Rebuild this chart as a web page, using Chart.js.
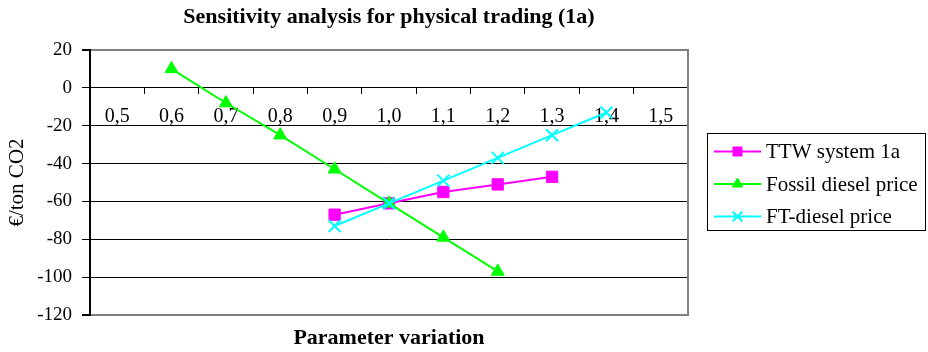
<!DOCTYPE html>
<html>
<head>
<meta charset="utf-8">
<script src="https://cdn.jsdelivr.net/npm/chart.js@4/dist/chart.umd.min.js"></script>
<style>
  html, body { margin: 0; padding: 0; background: #fff; }
  #wrap { width: 928px; height: 352px; }
</style>
</head>
<body>
<div id="wrap"><canvas id="c" width="928" height="352"></canvas></div>
<script>
// Parameter variation steps (x categories)
const categories = ['0,5', '0,6', '0,7', '0,8', '0,9', '1,0', '1,1', '1,2', '1,3', '1,4', '1,5'];

// €/ton CO2 for each sensitivity case
const ttwSystem1a   = [null, null, null, null, -67, -61, -55, -51, -47, null, null];
const fossilDiesel  = [null, 10, -8, -25, -43, -61, -79, -97, null, null, null];
const ftDiesel      = [null, null, null, null, -73, -61, -49, -37, -25, -13, null];

const seriesNames = ['TTW system 1a', 'Fossil diesel price', 'FT-diesel price'];

// Y axis range and step
const yMin = -120, yMax = 20, yStep = 20;

const SERIF = "'Liberation Serif', 'Times New Roman', serif";

// Right border of the plot frame
const frameRight = {
  id: 'frameRight',
  beforeDatasetsDraw(chart) {
    const { ctx, chartArea: a } = chart;
    ctx.save();
    ctx.strokeStyle = '#808080';
    ctx.lineWidth = 2;
    ctx.beginPath();
    ctx.moveTo(a.right, a.top - 1);
    ctx.lineTo(a.right, a.bottom + 1);
    ctx.stroke();
    ctx.restore();
  }
};

// Framed legend with line + marker samples
const boxedLegend = {
  id: 'boxedLegend',
  afterDraw(chart) {
    const { ctx, chartArea: a } = chart;
    const x0 = a.right + 19, y0 = 133, w = 218, h = 97;
    ctx.save();
    ctx.strokeStyle = '#000';
    ctx.lineWidth = 1;
    ctx.strokeRect(x0 + 0.5, y0 + 0.5, w, h);
    ctx.font = '21px ' + SERIF;
    ctx.textBaseline = 'middle';
    chart.data.datasets.forEach((ds, i) => {
      const cy = y0 + 18.5 + i * 32.5;
      const lx0 = x0 + 7, lx1 = x0 + 54;
      ctx.strokeStyle = ds.borderColor;
      ctx.lineWidth = 2;
      ctx.beginPath();
      ctx.moveTo(lx0, cy);
      ctx.lineTo(lx1, cy);
      ctx.stroke();
      ctx.fillStyle = ds.pointBackgroundColor;
      ctx.strokeStyle = ds.pointBorderColor;
      ctx.lineWidth = ds.pointBorderWidth;
      Chart.helpers.drawPoint(ctx, {
        pointStyle: ds.pointStyle,
        radius: ds.pointRadius * 0.8,
        borderWidth: ds.pointBorderWidth
      }, (lx0 + lx1) / 2, cy);
      ctx.fillStyle = '#000';
      ctx.fillText(seriesNames[i], x0 + 59, cy + 1);
    });
    ctx.restore();
  }
};

const whiteBg = {
  id: 'whiteBg',
  beforeDraw(chart) {
    const { ctx, width, height } = chart;
    ctx.save();
    ctx.fillStyle = '#fff';
    ctx.fillRect(0, 0, width, height);
    ctx.restore();
  }
};

new Chart(document.getElementById('c'), {
  type: 'line',
  data: {
    labels: categories,
    datasets: [
      {
        label: seriesNames[0], data: ttwSystem1a,
        borderColor: '#FF00FF', backgroundColor: '#FF00FF',
        pointBackgroundColor: '#FF00FF', pointBorderColor: '#FF00FF',
        pointStyle: 'rect', pointRadius: 8, pointBorderWidth: 1,
        borderWidth: 2, order: 3
      },
      {
        label: seriesNames[1], data: fossilDiesel,
        borderColor: '#00FF00', backgroundColor: '#00FF00',
        pointBackgroundColor: '#00FF00', pointBorderColor: '#00FF00',
        pointStyle: 'triangle', pointRadius: 7.5, pointBorderWidth: 1,
        borderWidth: 2, order: 2
      },
      {
        label: seriesNames[2], data: ftDiesel,
        borderColor: '#00FFFF', backgroundColor: '#00FFFF',
        pointBackgroundColor: '#00FFFF', pointBorderColor: '#00FFFF',
        pointStyle: 'crossRot', pointRadius: 8.5, pointBorderWidth: 2,
        borderWidth: 2, order: 1
      }
    ]
  },
  options: {
    responsive: false,
    animation: false,
    devicePixelRatio: 1,
    spanGaps: false,
    layout: { padding: { left: 0, right: 240, top: 0, bottom: 0 } },
    elements: { line: { tension: 0 } },
    plugins: {
      legend: { display: false },
      tooltip: { enabled: false },
      title: {
        display: true,
        fullSize: false,
        text: 'Sensitivity analysis for physical trading (1a)',
        color: '#000',
        font: { family: SERIF, size: 22, weight: 'bold', lineHeight: 1.2 },
        padding: { top: 4, bottom: 19.6 }
      },
      subtitle: {
        display: true,
        fullSize: false,
        position: 'bottom',
        text: 'Parameter variation',
        color: '#000',
        font: { family: SERIF, size: 22, weight: 'bold', lineHeight: 1.2 },
        padding: { top: 9.8, bottom: 0.8 }
      }
    },
    scales: {
      x: {
        type: 'category',
        position: { y: 0 },
        offset: true,
        grid: {
          drawOnChartArea: false,
          drawTicks: true,
          tickLength: 6,
          color: '#000',
          offset: true
        },
        border: { display: true, color: '#000', width: 1 },
        ticks: {
          color: '#000',
          font: { family: SERIF, size: 20 },
          padding: 11,
          maxRotation: 0,
          autoSkip: false
        }
      },
      y: {
        min: yMin, max: yMax,
        afterFit(scale) { scale.width = 90; },
        ticks: {
          stepSize: yStep,
          color: '#000',
          font: { family: SERIF, size: 19 },
          padding: 10
        },
        grid: {
          color: (c) => (c.tick && (c.tick.value === yMax || c.tick.value === yMin)) ? '#808080' : '#000',
          lineWidth: (c) => (c.tick && (c.tick.value === yMax || c.tick.value === yMin)) ? 2 : 1,
          tickColor: '#000',
          tickLength: 8,
          drawTicks: true
        },
        border: { display: true, color: '#000', width: 2 },
        title: {
          display: true,
          text: '€/ton CO2',
          color: '#000',
          font: { family: SERIF, size: 21 },
          padding: { top: 5, bottom: 0 }
        }
      }
    }
  },
  plugins: [whiteBg, frameRight, boxedLegend]
});
</script>
</body>
</html>
